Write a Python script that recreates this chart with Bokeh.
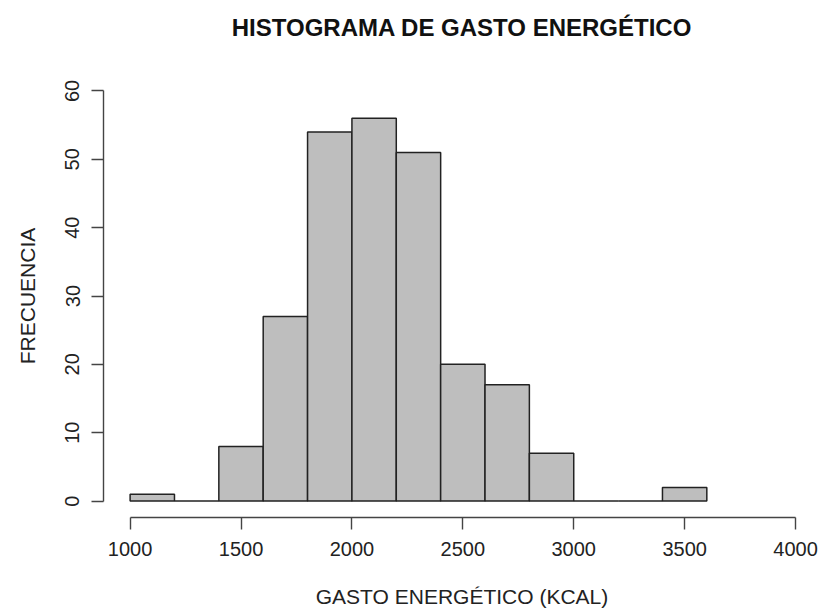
from bokeh.plotting import figure
from bokeh.models import Range1d, FixedTicker, Title
from bokeh.embed import file_html
from bokeh.resources import INLINE

# Histogram bins (kcal) and counts per bin
bin_left = [1000, 1200, 1400, 1600, 1800, 2000, 2200, 2400, 2600, 2800, 3000, 3200, 3400]
bin_right = [1200, 1400, 1600, 1800, 2000, 2200, 2400, 2600, 2800, 3000, 3200, 3400, 3600]
counts = [1, 0, 8, 27, 54, 56, 51, 20, 17, 7, 0, 0, 2]

x_ticks = [1000, 1500, 2000, 2500, 3000, 3500, 4000]
y_ticks = [0, 10, 20, 30, 40, 50, 60]

title_text = "HISTOGRAMA DE GASTO ENERGÉTICO"
x_label_text = "GASTO ENERGÉTICO (KCAL)"
y_label_text = "FRECUENCIA"

FONT = "Liberation Sans"
TEXT_COLOR = "#222222"

p = figure(
    width=820, height=613,
    x_range=Range1d(880, 4112.5), y_range=Range1d(-2.4, 62.4),
    output_backend="svg", toolbar_location=None,
    min_border_left=103, min_border_right=0,
    min_border_top=74, min_border_bottom=96,
)
p.outline_line_color = None
p.xgrid.visible = False
p.ygrid.visible = False
p.background_fill_color = "white"
p.border_fill_color = "white"

# empty spacer line between the frame and the main title
p.add_layout(Title(text=" ", text_font=FONT, text_font_size="16px"), "above")
p.add_layout(Title(text=title_text, align="center", text_font=FONT,
                   text_font_size="24px", text_font_style="bold",
                   text_color="#111111"), "above")

p.quad(left=bin_left, right=bin_right, bottom=[0] * len(counts), top=counts,
       fill_color="#bebebe", line_color="#222222", line_width=1.5)

# R-style detached axes
for ax in (p.xaxis[0], p.yaxis[0]):
    ax.axis_line_color = "#444444"
    ax.axis_line_width = 1.4
    ax.major_tick_line_color = "#444444"
    ax.major_tick_line_width = 1.4
    ax.major_tick_out = 12
    ax.major_tick_in = 0
    ax.minor_tick_line_color = None
    ax.major_label_text_font = FONT
    ax.major_label_text_font_size = "20px"
    ax.major_label_text_color = TEXT_COLOR
    ax.axis_label_text_font = FONT
    ax.axis_label_text_font_size = "21px"
    ax.axis_label_text_font_style = "normal"
    ax.axis_label_text_color = TEXT_COLOR

p.xaxis.bounds = (1000, 4000)
p.xaxis.ticker = FixedTicker(ticks=x_ticks)
p.xaxis.major_label_standoff = 12
p.xaxis.axis_label = x_label_text
p.xaxis.axis_label_standoff = 26

p.yaxis.bounds = (0, 60)
p.yaxis.ticker = FixedTicker(ticks=y_ticks)
p.yaxis.major_label_orientation = "vertical"
p.yaxis.major_label_standoff = 12
p.yaxis.axis_label = y_label_text
p.yaxis.axis_label_standoff = 24

open("out.html", "w").write(file_html(p, INLINE))
